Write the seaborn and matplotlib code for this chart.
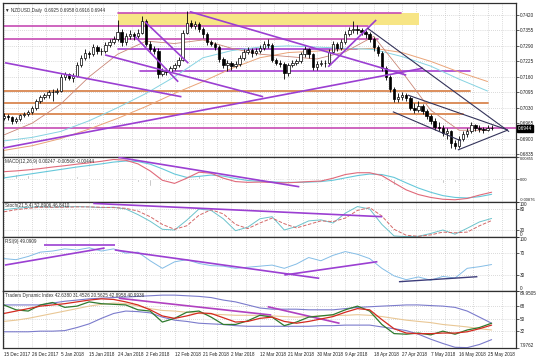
import matplotlib
matplotlib.use("Agg")
import matplotlib.pyplot as plt
import matplotlib.transforms as mtransforms
import numpy as np
import pandas as pd
import seaborn as sns

# === NZDUSD daily candles, bar index 0..120 ===
first_open = 0.6985
close = [
    0.6995, 0.6990, 0.6975, 0.6982, 0.6998, 0.7002, 0.7010, 0.7028, 0.7060, 0.7075,
    0.7082, 0.7095, 0.7098, 0.7102, 0.7160, 0.7170, 0.7155, 0.7165, 0.7210, 0.7240,
    0.7262, 0.7255, 0.7285, 0.7270, 0.7268, 0.7295, 0.7305, 0.7318, 0.7350, 0.7305,
    0.7330, 0.7340, 0.7330, 0.7345, 0.7395, 0.7300, 0.7275, 0.7270, 0.7170, 0.7185,
    0.7180, 0.7195, 0.7210, 0.7230, 0.7345, 0.7385, 0.7375, 0.7382, 0.7360, 0.7340,
    0.7305, 0.7300, 0.7285, 0.7235, 0.7210, 0.7220, 0.7205, 0.7215, 0.7240, 0.7265,
    0.7272, 0.7258, 0.7270, 0.7280, 0.7300, 0.7295, 0.7230, 0.7220, 0.7215, 0.7175,
    0.7210, 0.7220, 0.7225, 0.7255, 0.7275, 0.7255, 0.7200, 0.7215, 0.7220, 0.7218,
    0.7265, 0.7300, 0.7280, 0.7305, 0.7340, 0.7355, 0.7362, 0.7355, 0.7350, 0.7340,
    0.7320, 0.7285, 0.7260, 0.7195, 0.7160, 0.7110, 0.7065, 0.7075, 0.7082, 0.7070,
    0.7030, 0.7020, 0.7035, 0.7015, 0.6995, 0.6975, 0.6950, 0.6945, 0.6925, 0.6930,
    0.6880, 0.6870, 0.6900, 0.6920, 0.6930, 0.6955, 0.6945, 0.6940, 0.6935, 0.6945,
    0.6944]
high = [
    0.7008, 0.7002, 0.6995, 0.6990, 0.7005, 0.7012, 0.7020, 0.7035, 0.7068, 0.7085,
    0.7092, 0.7105, 0.7110, 0.7112, 0.7170, 0.7182, 0.7178, 0.7175, 0.7222, 0.7250,
    0.7275, 0.7270, 0.7300, 0.7292, 0.7280, 0.7305, 0.7318, 0.7330, 0.7400, 0.7362,
    0.7345, 0.7355, 0.7350, 0.7360, 0.7415, 0.7405, 0.7312, 0.7290, 0.7280, 0.7198,
    0.7195, 0.7205, 0.7220, 0.7245, 0.7355, 0.7437, 0.7398, 0.7395, 0.7390, 0.7368,
    0.7348, 0.7315, 0.7308, 0.7292, 0.7242, 0.7232, 0.7228, 0.7225, 0.7250, 0.7278,
    0.7285, 0.7280, 0.7282, 0.7295, 0.7312, 0.7318, 0.7302, 0.7240, 0.7230, 0.7222,
    0.7218, 0.7230, 0.7235, 0.7265, 0.7288, 0.7282, 0.7262, 0.7225, 0.7232, 0.7230,
    0.7275, 0.7312, 0.7308, 0.7318, 0.7352, 0.7368, 0.7393, 0.7380, 0.7365, 0.7358,
    0.7348, 0.7328, 0.7292, 0.7268, 0.7205, 0.7168, 0.7118, 0.7090, 0.7095, 0.7092,
    0.7078, 0.7048, 0.7058, 0.7045, 0.7025, 0.7005, 0.6988, 0.6968, 0.6955, 0.6945,
    0.6938, 0.6895, 0.6912, 0.6932, 0.6945, 0.6968, 0.6962, 0.6955, 0.6950, 0.6958,
    0.6956]
low = [
    0.6978, 0.6980, 0.6962, 0.6966, 0.6975, 0.6990, 0.6995, 0.7005, 0.7022, 0.7050,
    0.7065, 0.7070, 0.7060, 0.7088, 0.7098, 0.7148, 0.7145, 0.7140, 0.7160, 0.7200,
    0.7232, 0.7240, 0.7248, 0.7255, 0.7250, 0.7260, 0.7285, 0.7298, 0.7310, 0.7290,
    0.7295, 0.7320, 0.7315, 0.7322, 0.7340, 0.7290, 0.7262, 0.7255, 0.7155, 0.7162,
    0.7168, 0.7172, 0.7188, 0.7202, 0.7225, 0.7338, 0.7365, 0.7360, 0.7350, 0.7325,
    0.7295, 0.7288, 0.7272, 0.7222, 0.7195, 0.7185, 0.7190, 0.7198, 0.7205, 0.7232,
    0.7255, 0.7245, 0.7250, 0.7262, 0.7272, 0.7282, 0.7222, 0.7208, 0.7200, 0.7150,
    0.7165, 0.7200, 0.7210, 0.7218, 0.7245, 0.7240, 0.7188, 0.7190, 0.7205, 0.7200,
    0.7210, 0.7258, 0.7270, 0.7272, 0.7298, 0.7330, 0.7345, 0.7340, 0.7335, 0.7325,
    0.7305, 0.7270, 0.7248, 0.7185, 0.7145, 0.7098, 0.7055, 0.7052, 0.7062, 0.7058,
    0.7020, 0.7008, 0.7010, 0.7002, 0.6982, 0.6960, 0.6935, 0.6930, 0.6910, 0.6900,
    0.6862, 0.6858, 0.6862, 0.6890, 0.6908, 0.6922, 0.6932, 0.6928, 0.6925, 0.6930,
    0.6935]
open_ = [first_open] + close[:-1]   # daily open = previous close
bars = list(range(len(close)))

date_labels = ['15 Dec 2017', '26 Dec 2017', '5 Jan 2018', '15 Jan 2018', '24 Jan 2018',
               '2 Feb 2018', '12 Feb 2018', '21 Feb 2018', '2 Mar 2018', '12 Mar 2018',
               '21 Mar 2018', '30 Mar 2018', '9 Apr 2018', '18 Apr 2018', '27 Apr 2018',
               '7 May 2018', '16 May 2018', '25 May 2018']
date_bars = list(range(0, 120, 7))

# moving averages, read every 7 bars
ma_bars = list(range(0, 120, 7))
ma_fast = [0.6915, 0.6965, 0.7045, 0.7160, 0.7255, 0.7310, 0.7300, 0.7315, 0.7280,
           0.7255, 0.7245, 0.7235, 0.7265, 0.7330, 0.7180, 0.7020, 0.6935, 0.6935]
ma_mid = [0.6890, 0.6905, 0.6930, 0.6975, 0.7030, 0.7090, 0.7160, 0.7240, 0.7270,
          0.7285, 0.7290, 0.7285, 0.7280, 0.7275, 0.7245, 0.7205, 0.7150, 0.7100]
ma_slow = [0.6850, 0.6870, 0.6900, 0.6940, 0.6985, 0.7035, 0.7090, 0.7140, 0.7195,
           0.7240, 0.7262, 0.7268, 0.7275, 0.7280, 0.7262, 0.7225, 0.7180, 0.7140]

# indicators, read every 3 bars
ind_bars = list(range(0, 121, 3))
macd_main = [2.9, 3.2, 3.6, 4.1, 4.7, 5.2, 5.8, 6.3, 6.9, 7.6, 7.3, 5.9, 3.2, -0.4, -1.6,
             0.4, 2.7, 2.3, 0.4, -0.9, -1.2, -1.1, -1.2, -1.4, -1.2, -0.9, -0.7, 0.4, 1.8,
             2.5, 2.5, 1.4, -1.4, -4.1, -5.9, -7.0, -7.7, -7.9, -7.4, -6.1, -5.0]
macd_signal = [0.5, 1.2, 1.9, 2.6, 3.3, 4.0, 4.7, 5.3, 5.9, 6.6, 7.0, 6.8, 5.8, 4.0, 2.0,
               0.7, 1.1, 1.6, 1.2, 0.3, -0.5, -0.8, -1.0, -1.2, -1.2, -1.1, -0.9, -0.4, 0.5,
               1.4, 2.0, 1.8, 0.7, -1.4, -3.4, -5.0, -6.3, -7.0, -7.2, -6.7, -5.8]
macd_hist = [2.4, 2.1, 1.7, 1.5, 1.4, 1.2, 1.1, 1.0, 0.9, 1.0, 0.2, -1.0, -2.7, -4.5, -3.6,
             -0.3, 1.6, 0.6, -0.7, -1.2, -0.7, -0.3, -0.2, -0.2, -0.2, 0.0, 0.2, 0.8, 1.3,
             1.1, 0.5, -0.5, -2.1, -2.7, -2.5, -2.0, -1.4, -0.9, -0.2, 0.6, 0.9]
stoch_main = [78, 82, 85, 86, 85, 86, 87, 86, 84, 85, 80, 64, 45, 22, 20, 48, 80, 76, 52, 18,
              28, 52, 58, 20, 30, 46, 49, 40, 68, 87, 80, 36, 3, 1, 2, 10, 20, 8, 25, 43, 53]
stoch_signal = [72, 78, 82, 85, 85, 85, 86, 86, 85, 84, 82, 74, 58, 36, 22, 32, 62, 78, 66, 36,
                24, 40, 54, 38, 26, 36, 46, 44, 54, 76, 84, 60, 22, 5, 2, 6, 14, 12, 14, 32, 47]
rsi = [60, 58, 64, 72, 74, 78, 76, 80, 74, 78, 70, 72, 56, 42, 54, 58, 51, 47, 46, 42,
       44, 46, 48, 42, 50, 62, 56, 66, 73, 68, 60, 42, 28, 21, 26, 20, 27, 24, 42, 45, 49]
tdi_price = [69.9, 62.9, 61.1, 69.9, 73.4, 66.4, 68.2, 74.3, 71.7, 70.8, 69.9, 62.9, 61.1,
             45.3, 50.6, 59.4, 61.1, 52.4, 41.8, 41.8, 47.1, 55.0, 52.4, 40.1, 45.3, 52.4,
             54.1, 55.9, 62.9, 68.2, 61.1, 41.8, 28.7, 27.8, 29.5, 26.9, 32.2, 27.8, 33.9,
             37.4, 43.6]
tdi_signal = [57.6, 61.1, 64.6, 68.2, 69.9, 71.7, 74.3, 76.9, 78.7, 77.8, 74.3, 69.9, 62.9,
              54.1, 50.6, 54.1, 58.5, 57.6, 51.5, 45.3, 46.2, 50.6, 52.4, 46.2, 43.6, 46.2,
              49.7, 53.2, 59.4, 64.6, 62.9, 48.8, 35.7, 29.5, 28.6, 28.6, 29.5, 29.5, 31.3,
              35.7, 40.9]
tdi_base = [46.2, 48.0, 50.6, 54.1, 57.6, 61.1, 64.6, 68.2, 70.8, 72.6, 71.7, 68.2, 64.6,
            62.0, 61.1, 59.4, 57.6, 56.7, 55.9, 55.0, 55.0, 55.0, 54.1, 53.2, 52.4, 53.2,
            54.1, 55.0, 55.0, 55.9, 55.0, 53.2, 50.6, 48.0, 46.2, 44.5, 41.8, 40.1, 38.3,
            35.7, 33.9]
tdi_upper = [69.9, 69.9, 69.9, 69.9, 72.6, 75.2, 76.9, 78.7, 79.6, 80.5, 81.3, 82.2, 83.1,
             84.0, 84.0, 83.1, 82.2, 80.5, 76.9, 74.3, 69.9, 65.5, 63.8, 63.8, 63.8, 62.9,
             62.9, 62.9, 64.6, 66.4, 67.3, 68.2, 69.0, 69.9, 69.9, 69.0, 68.2, 66.4, 61.1,
             52.4, 43.6]
tdi_lower = [31.3, 31.3, 31.3, 32.2, 32.2, 33.0, 37.4, 42.7, 50.6, 57.6, 61.1, 60.3, 58.5,
             52.4, 48.0, 46.2, 43.6, 42.7, 41.8, 40.1, 39.2, 39.2, 39.2, 39.2, 39.2, 39.2,
             40.1, 40.1, 40.9, 40.9, 40.9, 38.3, 35.7, 33.0, 27.8, 20.7, 14.5, 9.0, 8.5,
             13.0, 20.0]

# chart objects: (bar0, value0, bar1, value1) and (price, bar0, bar1)
h_magenta = [(0.7374, -1, 89.6), (0.7318, -1, 92.0), (0.7430, 28.2, 97.6), (0.6944, -1, 127)]
h_purple = [(0.7276, 28.2, 87.0), (0.7184, 33.5, 114.6)]
h_orange = [(0.7101, -1, 114.6), (0.7051, -1, 119.0), (0.7002, -1, 113.0)]
supply_zone = (28.2, 102.2, 0.7380, 0.7430)
tl_purple = [(-0.5, 0.6859, 103.1, 0.7196), (0.3, 0.7219, 43.7, 0.7076),
             (24.9, 0.7252, 63.8, 0.7076), (34.7, 0.7392, 45.4, 0.7217),
             (32.3, 0.7329, 42.9, 0.7139), (45.8, 0.7434, 99.0, 0.7167),
             (79.8, 0.7202, 91.6, 0.7399)]
tl_dark = [(89.5, 0.7364, 124.3, 0.6929), (99.4, 0.7083, 124.0, 0.6936),
           (95.7, 0.7013, 112.5, 0.6890), (111.7, 0.6852, 124.0, 0.6936)]
tl_macd = [(28.2, 0.0084, 72.7, -0.0029)]
tl_stoch = [(22.0, 96, 93.1, 58)]
tl_rsi = [(0.25, 48, 24.8, 79.6), (10.0, 85, 27.3, 85), (27.3, 76, 77.6, 23.5),
          (69.0, 29.6, 91.9, 54.3)]
tl_rsi_dark = [(97.2, 17.2, 116.5, 26.5)]
tl_tdi = [(28.3, 79.5, 65.8, 55.4), (64.9, 67.4, 82.6, 43.5)]

sns.set_style("white")
plt.rcParams['font.family'] = ['Liberation Sans', 'DejaVu Sans']

W, H = 536, 358
FS = 3.3
fig = plt.figure(figsize=(W / 100, H / 100), dpi=100)


def panel(top, bottom):
    return fig.add_axes([3 / W, 1 - bottom / H, 513 / W, (bottom - top) / H])


ax_main = panel(3, 157)
ax_macd = panel(157, 202)
ax_sto = panel(202, 237)
ax_rsi = panel(237, 291)
ax_tdi = panel(291, 348)
axes = [ax_main, ax_macd, ax_sto, ax_rsi, ax_tdi]

GRID = dict(color='#b8b8b8', lw=0.5, ls=(0, (1, 2)), zorder=0)
for ax in axes:
    ax.set_xlim(-0.2, 126.0)
    for gx in np.arange(0, 126, 3.5):
        ax.axvline(gx, **GRID)
    for s in ax.spines.values():
        s.set_color('#303030')
        s.set_linewidth(0.9)
    ax.tick_params(axis='x', length=0, labelbottom=False)


def right_labels(ax, vals, texts, nudge=True, fs=FS):
    ax.set_yticks(vals)
    ax.set_yticklabels(texts)
    ax.yaxis.tick_right()
    ax.tick_params(axis='y', length=2, width=0.5, pad=1.0, labelsize=fs, colors='#202020')
    if nudge:
        lbls = ax.get_yticklabels()
        lbls[0].set_va('bottom')
        lbls[-1].set_va('top')


def title(ax, txt):
    ax.text(0.004, 0.965, txt, transform=ax.transAxes, va='top', ha='left',
            fontsize=FS, color='#303030', zorder=10)


def segs(ax, lines, color, lw, z=5):
    for x0, y0, x1, y1 in lines:
        ax.plot([x0, x1], [y0, y1], color=color, lw=lw, zorder=z, solid_capstyle='butt')


# === main price panel ===
price_ticks = [0.6835, 0.6900, 0.6965, 0.7030, 0.7095, 0.7160, 0.7225, 0.7290, 0.7355, 0.7420]
ax_main.set_ylim(0.68224, 0.74705)
for p in price_ticks:
    ax_main.axhline(p, **GRID)
right_labels(ax_main, price_ticks, [f'{p:.4f}' for p in price_ticks], nudge=False)

ax_main.fill_between([supply_zone[0], supply_zone[1]], supply_zone[2], supply_zone[3],
                     color='#f7e585', lw=0, zorder=1)
for p, x0, x1 in h_orange:
    ax_main.plot([x0, x1], [p, p], color='#dc8e5c', lw=1.4, zorder=1.5)
for p, x0, x1 in h_magenta:
    ax_main.plot([x0, x1], [p, p], color='#c64bb4', lw=1.2, zorder=1.5)
for p, x0, x1 in h_purple:
    ax_main.plot([x0, x1], [p, p], color='#a63fd0', lw=1.2, zorder=1.5)

sns.lineplot(x=ma_bars, y=ma_slow, ax=ax_main, color='#eaa478', lw=0.7, zorder=2)
sns.lineplot(x=ma_bars, y=ma_mid, ax=ax_main, color='#86d3e2', lw=0.7, zorder=2)
sns.lineplot(x=ma_bars, y=ma_fast, ax=ax_main, color='#c98676', lw=0.6, zorder=2)

candles = pd.DataFrame({'bar': bars, 'open': open_, 'high': high, 'low': low, 'close': close})
ax_main.vlines(candles['bar'], candles['low'], candles['high'], color='black', lw=0.6, zorder=3)
body_lo = candles[['open', 'close']].min(axis=1)
body_h = (candles['close'] - candles['open']).abs().clip(lower=0.00008)
faces = ['white' if c >= o else 'black' for o, c in zip(open_, close)]
ax_main.bar(candles['bar'], body_h, bottom=body_lo, width=0.6, color=faces,
            edgecolor='black', linewidth=0.5, zorder=4)

segs(ax_main, tl_purple, '#9b3fd2', 1.2)
segs(ax_main, tl_dark, '#33335a', 0.8)

title(ax_main, '\u25bc NZDUSD,Daily  0.6925 0.6958 0.6916 0.6944')
blend = mtransforms.blended_transform_factory(ax_main.transAxes, ax_main.transData)
ax_main.text(1.004, close[-1], f'{close[-1]:.4f}', transform=blend, fontsize=FS, color='white',
             va='center', ha='left', zorder=11,
             bbox=dict(boxstyle='square,pad=0.2', fc='black', ec='black'))

# === MACD ===
ax_macd.set_ylim(-0.00876, 0.00855)
ax_macd.axhline(0, **GRID)
ax_macd.bar(ind_bars, [v / 1000 for v in macd_hist], width=0.35, color='#a8a8a8', zorder=1)
sns.lineplot(x=ind_bars, y=[v / 1000 for v in macd_signal], ax=ax_macd, color='#66c8da', lw=0.8)
sns.lineplot(x=ind_bars, y=[v / 1000 for v in macd_main], ax=ax_macd, color='#e06a7a', lw=0.8)
segs(ax_macd, tl_macd, '#9b3fd2', 1.2)
right_labels(ax_macd, [-0.00876, 0.0, 0.00855], ['-0.00876', '0.00', '0.00855'], fs=2.9)
title(ax_macd, 'MACD(12,26,9) 0.00247 -0.00568 -0.00444')

# === Stochastic ===
ax_sto.set_ylim(0, 100)
for lv in (20, 80):
    ax_sto.axhline(lv, **GRID)
sns.lineplot(x=ind_bars, y=stoch_main, ax=ax_sto, color='#6cc3cc', lw=0.7)
sns.lineplot(x=ind_bars, y=stoch_signal, ax=ax_sto, color='#d46a6a', lw=0.7, linestyle='--')
segs(ax_sto, tl_stoch, '#9b3fd2', 1.2)
right_labels(ax_sto, [0, 20, 80, 100], ['0', '20', '80', '100'])
title(ax_sto, 'Stoch(21,5,4) 52.8906 46.8410')

# === RSI ===
ax_rsi.set_ylim(0, 100)
for lv in (30, 70):
    ax_rsi.axhline(lv, **GRID)
sns.lineplot(x=ind_bars, y=rsi, ax=ax_rsi, color='#84bde6', lw=0.7)
segs(ax_rsi, tl_rsi, '#9b3fd2', 1.2)
segs(ax_rsi, tl_rsi_dark, '#3d3d7a', 1.0)
right_labels(ax_rsi, [0, 30, 70, 100], ['0', '30', '70', '100'])
title(ax_rsi, 'RSI(9) 49.0909')

# === Traders Dynamic Index ===
ax_tdi.set_ylim(7.9762, 89.9505)
for lv in (32, 50, 68):
    ax_tdi.axhline(lv, **GRID)
sns.lineplot(x=ind_bars, y=tdi_upper, ax=ax_tdi, color='#7b7bcc', lw=0.8)
sns.lineplot(x=ind_bars, y=tdi_lower, ax=ax_tdi, color='#7b7bcc', lw=0.8)
sns.lineplot(x=ind_bars, y=tdi_base, ax=ax_tdi, color='#e9c795', lw=0.8)
segs(ax_tdi, tl_tdi, '#b040c0', 1.2, z=2)
sns.lineplot(x=ind_bars, y=tdi_price, ax=ax_tdi, color='#2f7a2f', lw=0.9)
sns.lineplot(x=ind_bars, y=tdi_signal, ax=ax_tdi, color='#d42a20', lw=0.9)
right_labels(ax_tdi, [7.9762, 32, 50, 68, 89.9505], ['7.9762', '32', '50', '68', '89.9505'])
title(ax_tdi, 'Traders Dynamic Index 42.6380 31.4526 20.5625 42.8958 40.9936')

ax_tdi.set_xticks(date_bars)
ax_tdi.set_xticklabels(date_labels, ha='left')
ax_tdi.tick_params(axis='x', length=2, width=0.5, pad=1, labelsize=FS, labelbottom=True,
                   colors='#202020')

for ax in axes:
    ax.set_xlabel('')
    ax.set_ylabel('')

fig.savefig('out.png', dpi=100, facecolor='white')
